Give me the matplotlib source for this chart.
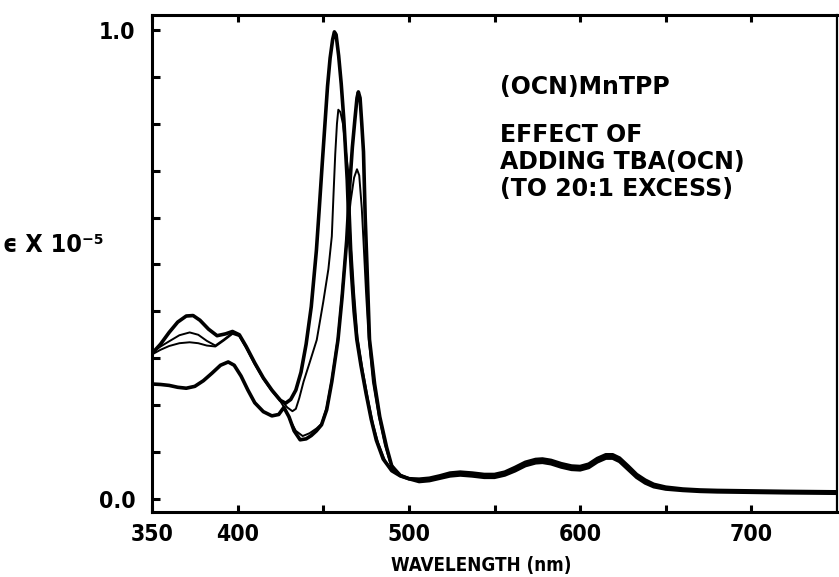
import matplotlib
matplotlib.use("Agg")
import matplotlib.pyplot as plt
from matplotlib.ticker import FixedLocator, MultipleLocator, NullFormatter

# ---- absorption spectra of (OCN)MnTPP while TBA(OCN) is added ----
# Visible region tail wavelengths (nm), shared by all four spectra
tail_wl = [506, 512, 518, 524, 530, 537, 544, 550, 556, 562, 568, 574, 578,
           583, 589, 595, 600, 605, 610, 615, 619, 623, 628, 633, 638, 643,
           650, 660, 670, 680, 700, 720, 750]

# Spectrum A (start, Soret at 457 nm)
a_wl = [350, 355, 360, 365, 370, 374, 378, 383, 388, 393, 397, 401, 405, 410,
        415, 420, 425, 428, 431, 434, 437, 440, 443, 446, 447.5, 449.5, 451,
        452.5, 454, 455.5, 456.5, 457.5, 459, 460.5, 462, 464, 465, 466.5,
        468, 469.6, 472, 475, 478, 481, 485, 490, 495, 500]
a_val = [0.310, 0.330, 0.355, 0.377, 0.390, 0.391, 0.381, 0.362, 0.348, 0.352,
         0.357, 0.350, 0.325, 0.290, 0.258, 0.232, 0.210, 0.204, 0.212, 0.232,
         0.270, 0.330, 0.410, 0.530, 0.610, 0.720, 0.800, 0.880, 0.940, 0.980,
         0.996, 0.990, 0.945, 0.885, 0.810, 0.680, 0.580, 0.480, 0.400, 0.340,
         0.285, 0.225, 0.170, 0.125, 0.085, 0.060, 0.049, 0.043]
a_tail = [0.042, 0.044, 0.049, 0.055, 0.057, 0.055, 0.052, 0.052, 0.057, 0.067,
          0.078, 0.084, 0.085, 0.082, 0.075, 0.070, 0.069, 0.074, 0.086, 0.094,
          0.094, 0.087, 0.070, 0.052, 0.040, 0.031, 0.025, 0.021, 0.019, 0.018,
          0.017, 0.016, 0.015]

# Spectrum C (first addition)
c_wl = [350, 355, 360, 366, 372, 377, 382, 387, 392, 397, 401, 405, 410, 415,
        420, 425, 429, 432, 434, 436, 438.5, 442, 446.2, 450, 453, 455, 456,
        457, 458, 458.8, 460, 461.5, 463, 464.5, 465.5, 466.5, 468, 470, 473,
        476, 479, 482, 486, 490, 495, 500]
c_val = [0.312, 0.325, 0.336, 0.349, 0.355, 0.350, 0.337, 0.327, 0.340, 0.354,
         0.349, 0.324, 0.289, 0.257, 0.231, 0.212, 0.195, 0.187, 0.192, 0.215,
         0.250, 0.290, 0.339, 0.420, 0.490, 0.560, 0.650, 0.735, 0.800, 0.830,
         0.825, 0.800, 0.750, 0.700, 0.620, 0.530, 0.440, 0.345, 0.275, 0.215,
         0.160, 0.120, 0.082, 0.062, 0.050, 0.044]
c_tail = [0.038, 0.040, 0.045, 0.051, 0.053, 0.051, 0.048, 0.048, 0.053, 0.063,
          0.074, 0.080, 0.081, 0.078, 0.071, 0.066, 0.065, 0.070, 0.082, 0.090,
          0.090, 0.083, 0.066, 0.048, 0.036, 0.028, 0.022, 0.019, 0.017, 0.016,
          0.015, 0.014, 0.013]

# Spectrum D (second addition)
d_wl = [350, 355, 360, 366, 372, 377, 382, 387, 392, 397, 401, 405, 410, 415,
        420, 425, 428, 431, 434, 438, 442, 446, 449, 452, 455, 458.6, 461,
        463.7, 466, 468, 469.7, 471, 472.5, 473.5, 475, 476.5, 479, 482.5,
        486, 489, 494, 500]
d_val = [0.308, 0.318, 0.326, 0.332, 0.334, 0.332, 0.327, 0.325, 0.338, 0.352,
         0.347, 0.322, 0.287, 0.256, 0.230, 0.208, 0.190, 0.165, 0.145, 0.134,
         0.140, 0.150, 0.160, 0.195, 0.255, 0.345, 0.440, 0.555, 0.635, 0.685,
         0.703, 0.690, 0.620, 0.550, 0.440, 0.345, 0.250, 0.175, 0.115, 0.078,
         0.053, 0.043]
d_tail = [0.040, 0.042, 0.047, 0.053, 0.055, 0.053, 0.050, 0.050, 0.055, 0.065,
          0.076, 0.082, 0.083, 0.080, 0.073, 0.068, 0.067, 0.072, 0.084, 0.092,
          0.092, 0.085, 0.068, 0.050, 0.038, 0.030, 0.024, 0.020, 0.018, 0.017,
          0.016, 0.015, 0.014]

# Spectrum B (20:1 excess, Soret at 470 nm)
b_wl = [350, 355, 360, 365, 370, 375, 380, 385, 390, 394.5, 398, 402, 406, 410,
        415, 420, 424, 427, 430, 433, 436.5, 440, 443, 446, 449, 452, 455,
        458.6, 461, 463.7, 465.5, 467, 468.5, 469.7, 470.5, 471.5, 472.5,
        473.5, 474.5, 475.5, 477, 480, 483, 487, 490, 495, 500]
b_val = [0.245, 0.244, 0.242, 0.238, 0.236, 0.240, 0.252, 0.268, 0.285, 0.292,
         0.285, 0.262, 0.232, 0.205, 0.186, 0.177, 0.180, 0.195, 0.175, 0.145,
         0.126, 0.128, 0.135, 0.145, 0.158, 0.190, 0.250, 0.339, 0.430, 0.552,
         0.670, 0.750, 0.810, 0.855, 0.868, 0.855, 0.800, 0.740, 0.600, 0.500,
         0.340, 0.245, 0.175, 0.110, 0.070, 0.050, 0.043]
b_tail = [0.037, 0.039, 0.044, 0.049, 0.051, 0.049, 0.046, 0.046, 0.051, 0.060,
          0.071, 0.077, 0.078, 0.075, 0.068, 0.063, 0.062, 0.067, 0.079, 0.087,
          0.087, 0.080, 0.063, 0.046, 0.034, 0.026, 0.021, 0.018, 0.016, 0.015,
          0.014, 0.013, 0.012]

x_ticks_labeled = [350, 400, 500, 600, 700]
x_ticks_unlabeled = [450, 550, 650]
y_ticks_labeled = [0.0, 1.0]

annotation_lines = ["(OCN)MnTPP", "EFFECT OF", "ADDING TBA(OCN)", "(TO 20:1 EXCESS)"]

W, H = 839, 577
fig = plt.figure(figsize=(W / 100, H / 100), dpi=100)
ax = fig.add_axes([152 / W, 1 - 512 / H, (837 - 152) / W, (512 - 15) / H])

series = [
    (a_wl, a_val, a_tail, 2.6),
    (b_wl, b_val, b_tail, 2.6),
    (c_wl, c_val, c_tail, 1.4),
    (d_wl, d_val, d_tail, 1.4),
]
for wl, val, tail, lw in series:
    ax.plot(list(wl) + tail_wl, list(val) + tail, color="black", lw=lw,
            solid_joinstyle="round", solid_capstyle="round")

ax.set_xlim(350, 750)
ax.set_ylim(-0.028, 1.032)

for side in ["left", "bottom", "top"]:
    ax.spines[side].set_linewidth(2.2)
ax.spines["right"].set_linewidth(1.6)

narrow = ["DejaVu Sans"]
tick_font = dict(family=narrow, weight="bold", size=16.5, stretch="condensed")

ax.xaxis.set_major_locator(FixedLocator(x_ticks_labeled))
ax.xaxis.set_minor_locator(FixedLocator(x_ticks_unlabeled))
ax.set_xticklabels([str(v) for v in x_ticks_labeled], fontdict=tick_font)
ax.tick_params(axis="x", which="both", direction="in", top=True, bottom=True,
               length=5, width=2.2, pad=8)

ax.yaxis.set_major_locator(FixedLocator(y_ticks_labeled))
ax.yaxis.set_minor_locator(MultipleLocator(0.1))
ax.yaxis.set_minor_formatter(NullFormatter())
ax.set_yticklabels([f"{v:.1f}" for v in y_ticks_labeled], fontdict=tick_font)
ax.tick_params(axis="y", which="both", direction="in", left=True, right=False,
               length=6, width=2.2, pad=12)

fig.text(481 / W, 1 - 566 / H, "WAVELENGTH (nm)", ha="center", va="center",
         family=narrow, weight="bold", size=13.5, stretch="condensed")
fig.text(3 / W, 1 - 245 / H, "\u03f5 X 10\u207b\u2075", ha="left", va="center",
         family=narrow, weight="bold", size=18, stretch="condensed")

for text, ypix in zip(annotation_lines, [87, 135, 162, 189]):
    fig.text(500 / W, 1 - ypix / H, text, ha="left", va="center",
             family="DejaVu Sans", weight="bold", size=17)

fig.savefig("out.png", dpi=100)
